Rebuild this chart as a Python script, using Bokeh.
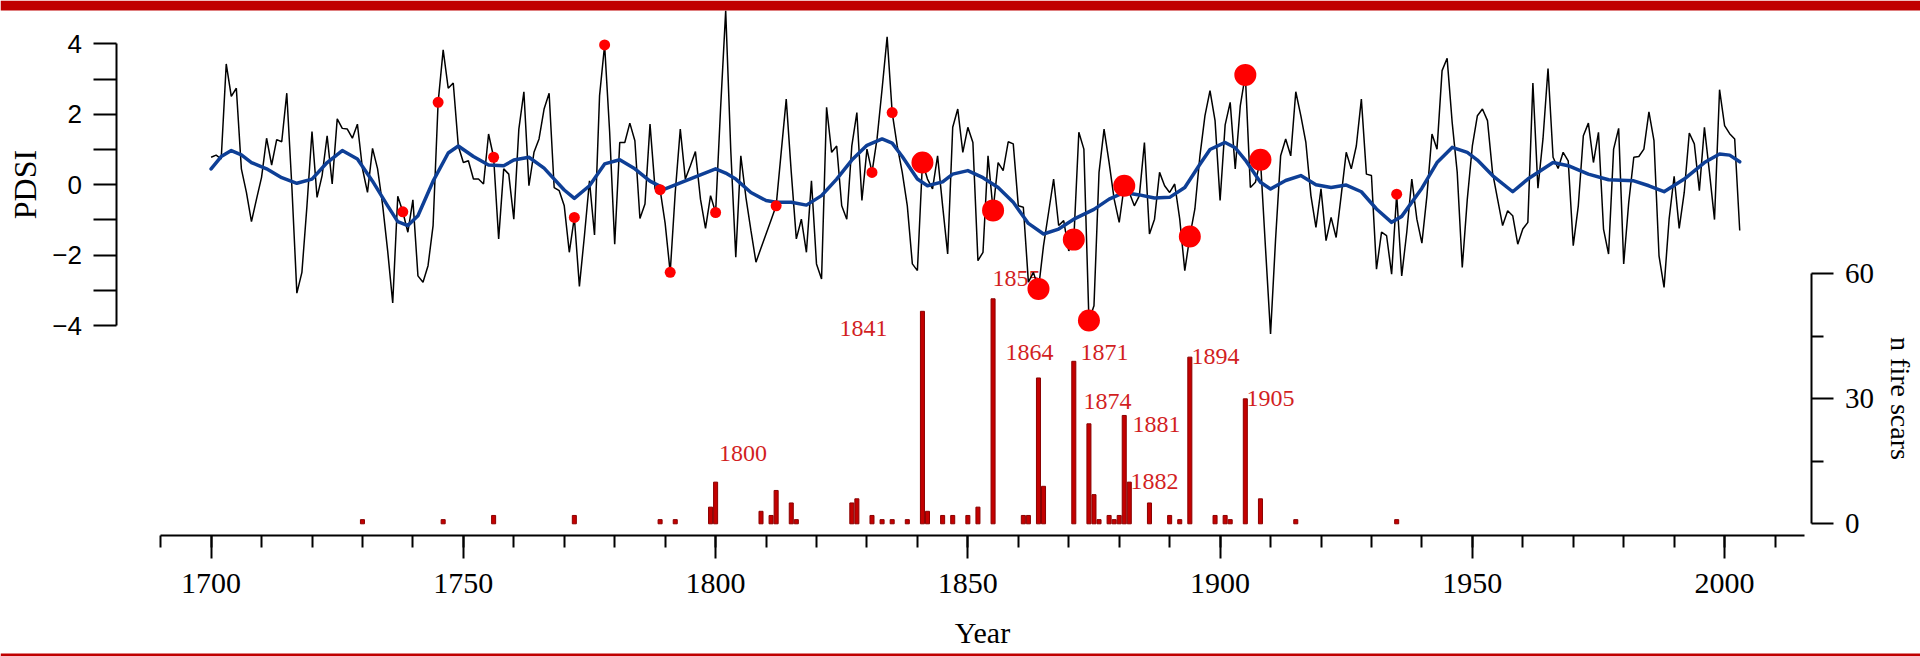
from bokeh.plotting import figure
from bokeh.models import Range1d, LinearAxis, FixedTicker, BoxAnnotation, ColumnDataSource
from bokeh.core.properties import value
from bokeh.embed import file_html
from bokeh.resources import INLINE

# ---------------- data ----------------
years = list(range(1700, 2004))
pdsi = [
    0.78, 0.84, 0.73, 3.43, 2.51, 2.74, 0.45, -0.22, -1.05, -0.41,
    0.21, 1.32, 0.56, 1.28, 1.22, 2.60, -0.03, -3.08, -2.49, -0.60,
    1.51, -0.36, 0.26, 1.39, 0.02, 1.87, 1.60, 1.58, 1.32, 1.72,
    0.46, -0.22, 1.03, 0.45, -0.58, -1.88, -3.36, -0.33, -0.77, -1.35,
    -0.43, -2.59, -2.77, -2.30, -1.16, 2.34, 3.83, 2.74, 2.89, 1.10,
    0.63, 0.68, 0.16, 0.16, 0.02, 1.44, 0.78, -1.54, 0.45, 0.30,
    -0.98, 1.58, 2.64, -0.03, 0.92, 1.30, 2.15, 2.60, -0.08, -0.17,
    -0.60, -1.92, -0.93, -2.89, -1.45, 0.11, -1.43, 2.53, 3.97, 1.49,
    -1.69, 1.20, 1.20, 1.75, 1.25, -0.96, -0.55, 1.72, -0.12, -0.14,
    -1.10, -2.49, -0.22, 1.58, 0.16, 0.54, 0.94, -0.41, -1.24, -0.31,
    -0.79, 2.20, 4.94, 1.00, -2.06, 0.82, -0.35, -1.30, -2.20, -1.80,
    -1.40, -1.00, -0.60, 0.92, 2.43, 0.35, -1.54, -0.98, -1.92, 0.11,
    -2.25, -2.68, 2.20, 0.92, 1.10, -0.60, -0.98, 1.10, 2.05, -0.45,
    1.01, 0.35, 1.30, 2.72, 4.20, 2.05, 1.10, 0.35, -0.60, -2.25,
    -2.44, 0.63, 0.16, -0.12, 0.82, -0.60, -1.97, 1.63, 2.15, 0.92,
    1.63, 1.20, -2.16, -1.92, 0.82, -0.73, 0.63, 0.40, 1.22, 1.16,
    -0.60, -0.64, -2.77, -2.49, -2.96, -1.73, -0.79, 0.16, -1.16, -1.02,
    -1.88, -1.56, 1.49, 1.01, -3.86, -3.44, 0.35, 1.58, 0.63, -0.41,
    -1.07, -0.03, -0.22, -0.60, -0.31, 1.20, -1.40, -0.98, 0.35, -0.03,
    -0.22, 0.02, -0.98, -2.44, -1.47, -0.69, 0.82, 1.96, 2.67, 1.82,
    -0.45, 1.70, 2.34, 0.45, 2.24, 3.12, -0.08, 0.07, 0.71, -1.80,
    -4.24, -1.54, 0.82, 1.30, 0.82, 2.64, 1.96, 1.20, -0.31, -1.21,
    -0.12, -1.59, -0.93, -1.50, -0.31, 0.92, 0.45, 1.10, 2.43, 0.30,
    0.26, -2.40, -1.35, -1.45, -2.54, -0.27, -2.59, -1.35, 0.16, -0.98,
    -1.66, -0.31, 1.44, 1.01, 3.24, 3.59, 1.77, 0.35, -2.35, -0.41,
    1.10, 1.96, 2.15, 1.82, 0.35, -0.41, -1.16, -0.74, -0.88, -1.69,
    -1.26, -1.07, 2.89, -0.10, 1.30, 3.30, 0.78, 0.46, 0.92, 0.68,
    -1.73, -0.60, 1.39, 1.75, 0.63, 1.49, -1.26, -1.97, 1.01, 1.60,
    -2.25, -0.50, 0.78, 0.80, 1.01, 2.07, 1.25, -2.02, -2.92, -0.98,
    0.24, -1.24, -0.22, 1.47, 1.16, -0.17, 1.63, 0.35, -0.99, 2.70,
    1.68, 1.45, 1.30, -1.30,
]

smooth_years = [
    1700, 1702, 1704, 1706, 1708, 1711, 1714, 1717, 1720, 1723, 1726, 1729,
    1732, 1735, 1737, 1739, 1741, 1744, 1747, 1749, 1752, 1755, 1758, 1760,
    1763, 1766, 1770, 1772, 1775, 1778, 1781, 1784, 1787, 1790, 1793, 1797,
    1800, 1802, 1804, 1807, 1810, 1812, 1815, 1818, 1821, 1824, 1827, 1830,
    1833, 1835, 1837, 1840, 1842, 1845, 1847, 1850, 1853, 1856, 1859, 1862,
    1865, 1868, 1871, 1875, 1878, 1881, 1884, 1887, 1890, 1893, 1896, 1898,
    1901, 1903, 1905, 1908, 1910, 1913, 1916, 1919, 1922, 1925, 1928, 1931,
    1934, 1936, 1940, 1943, 1946, 1949, 1951, 1954, 1958, 1961, 1966, 1969,
    1973, 1977, 1982, 1985, 1988, 1992, 1996, 1999, 2001, 2003,
]
smooth_pdsi = [
    0.45, 0.80, 0.97, 0.85, 0.63, 0.45, 0.20, 0.04, 0.16, 0.63, 0.97, 0.73,
    0.10, -0.60, -1.05, -1.16, -0.88, 0.10, 0.90, 1.10, 0.80, 0.56, 0.54, 0.70,
    0.78, 0.47, -0.15, -0.39, -0.03, 0.59, 0.71, 0.45, 0.10, -0.12, 0.05, 0.28,
    0.45, 0.33, 0.16, -0.22, -0.45, -0.50, -0.50, -0.58, -0.31, 0.16, 0.70, 1.12,
    1.30, 1.18, 0.80, 0.16, -0.03, 0.08, 0.30, 0.40, 0.20, -0.08, -0.50, -1.10,
    -1.40, -1.26, -0.98, -0.70, -0.41, -0.22, -0.29, -0.38, -0.36, -0.08, 0.58, 1.00,
    1.20, 1.05, 0.70, 0.07, -0.12, 0.12, 0.26, 0.00, -0.08, -0.01, -0.20, -0.69,
    -1.07, -0.90, -0.10, 0.63, 1.06, 0.92, 0.70, 0.26, -0.20, 0.16, 0.63, 0.54,
    0.30, 0.14, 0.11, -0.03, -0.20, 0.16, 0.63, 0.87, 0.84, 0.65,
]

fire_years = [
    1730, 1746, 1756, 1772, 1789, 1792, 1799, 1800, 1809, 1811, 1812, 1815,
    1816, 1827, 1828, 1831, 1833, 1835, 1838, 1841, 1842, 1845, 1847, 1850,
    1852, 1855, 1861, 1862, 1864, 1865, 1871, 1874, 1875, 1876, 1878, 1879,
    1880, 1881, 1882, 1886, 1890, 1892, 1894, 1899, 1901, 1902, 1905, 1908,
    1915, 1935,
]
fire_counts = [
    1, 1, 2, 2, 1, 1, 4, 10, 3, 2, 8, 5,
    1, 5, 6, 2, 1, 1, 1, 51, 3, 2, 2, 2,
    4, 54, 2, 2, 35, 9, 39, 24, 7, 1, 2, 1,
    2, 26, 10, 5, 2, 1, 40, 2, 2, 1, 30, 6,
    1, 1,
]

small_dot_years = [1738, 1745, 1756, 1772, 1778, 1789, 1791, 1800, 1812, 1831, 1835, 1935]
big_dot_years = [1841, 1855, 1864, 1871, 1874, 1881, 1894, 1905, 1908]
label_years = [1800, 1841, 1855, 1864, 1871, 1874, 1881, 1882, 1894, 1905]

# ---------------- layout (pixels) ----------------
W, H = 1920, 656
X0_PX, PX_PER_YEAR = 210.6, 5.045      # pixel of year 1700, px per year
Y0_PX, PX_PER_PDSI = 184.2, 35.2       # pixel of PDSI 0, px per unit
F0_PX, PX_PER_SCAR = 523.3, 250.0 / 60 # pixel of 0 scars, px per scar

def year_at(px):
    return 1700 + (px - X0_PX) / PX_PER_YEAR

def pdsi_at(py):
    return (Y0_PX - py) / PX_PER_PDSI

x_range = Range1d(year_at(0), year_at(W))
y_range = Range1d(pdsi_at(H), pdsi_at(0))
fire_range = Range1d((F0_PX - H) / PX_PER_SCAR, F0_PX / PX_PER_SCAR)

p = figure(width=W, height=H, x_range=x_range, y_range=y_range,
           output_backend="svg", toolbar_location=None,
           x_axis_location=None, y_axis_location=None, min_border=0)
p.min_border_left = p.min_border_right = p.min_border_top = p.min_border_bottom = 0
p.outline_line_color = None
p.grid.visible = False
p.background_fill_color = "white"
p.border_fill_color = "white"
p.extra_y_ranges = {"fire": fire_range}

RED_BAND = "#c00000"
p.add_layout(BoxAnnotation(bottom=pdsi_at(10), fill_color=RED_BAND, fill_alpha=1,
                           line_color=None, level="underlay"))
p.add_layout(BoxAnnotation(top=pdsi_at(653), fill_color=RED_BAND, fill_alpha=1,
                           line_color=None, level="underlay"))

SERIF = "Liberation Serif"
SANS = "Liberation Sans"

def style_axis(ax, tick_out, minor_out, label_size, font):
    ax.axis_line_width = 2
    ax.axis_line_color = "black"
    ax.major_tick_line_width = 2
    ax.minor_tick_line_width = 2
    ax.major_tick_in = 0
    ax.minor_tick_in = 0
    ax.major_tick_out = tick_out
    ax.minor_tick_out = minor_out
    ax.major_label_text_font = font
    ax.major_label_text_font_size = label_size
    ax.major_label_text_color = "black"
    ax.axis_label_text_font = SERIF
    ax.axis_label_text_font_style = "normal"
    ax.axis_label_text_color = "black"

# bottom Year axis
xaxis = LinearAxis(fixed_location=pdsi_at(535), bounds=(1690, 2015.9),
                   ticker=FixedTicker(ticks=list(range(1700, 2001, 50)),
                                      minor_ticks=list(range(1690, 2016, 10))),
                   axis_label="Year")
style_axis(xaxis, 23, 12, "30px", SERIF)
xaxis.major_label_standoff = 15
xaxis.axis_label_standoff = 20
xaxis.axis_label_text_font_size = "30px"
p.add_layout(xaxis, "below")

# left PDSI axis
laxis = LinearAxis(fixed_location=year_at(115.5), bounds=(-4, 4),
                   ticker=FixedTicker(ticks=[-4, -2, 0, 2, 4], minor_ticks=[-3, -1, 1, 3]),
                   axis_label="PDSI")
style_axis(laxis, 23, 23, "26px", SANS)
laxis.major_label_standoff = 11
laxis.axis_label_standoff = 7
laxis.axis_label_text_font_size = "32px"
p.add_layout(laxis, "left")

# right fire-scar axis
raxis = LinearAxis(y_range_name="fire", fixed_location=year_at(1810.6), bounds=(0, 60),
                   ticker=FixedTicker(ticks=[0, 30, 60], minor_ticks=[15, 45]),
                   axis_label="n fire scars")
style_axis(raxis, 22, 12, "29px", SERIF)
raxis.major_label_standoff = 12
raxis.axis_label_standoff = 7
raxis.axis_label_text_font_size = "28px"
p.add_layout(raxis, "right")

# fire-scar bars
p.vbar(x=fire_years, top=fire_counts, bottom=0, width=0.8, y_range_name="fire",
       fill_color="#c40000", line_color="#8a0000", line_width=1)

# labels of fire years (pixel offsets from the top of each bar)
count_of = dict(zip(fire_years, fire_counts))
label_dx = [3.5, -82.9, -0.6, -33.0, 6.7, -5.4, 8.2, 1.2, 1.7, 1.2]
label_dy = [-29.0, 16.9, -20.6, -25.8, -9.0, -22.3, 8.7, -0.6, -0.6, -0.6]
lab_src = ColumnDataSource(dict(x=label_years, y=[count_of[y] for y in label_years],
                                t=[str(y) for y in label_years], dx=label_dx, dy=label_dy))
p.text(x="x", y="y", text="t", x_offset="dx", y_offset="dy", source=lab_src,
       y_range_name="fire", text_font=value(SERIF), text_font_size="24px",
       text_color="#d21f1f", text_align="left", text_baseline="alphabetic")

# PDSI series and smooth
p.line(years, pdsi, line_color="black", line_width=1.5)
p.line(smooth_years, smooth_pdsi, line_color="#0e3f96", line_width=3.5,
       line_join="round", line_cap="round")

# fire-year dots
pdsi_of = dict(zip(years, pdsi))
p.scatter(small_dot_years, [pdsi_of[y] for y in small_dot_years], size=11,
          fill_color="#ff0000", line_color=None)
p.scatter(big_dot_years, [pdsi_of[y] for y in big_dot_years], size=22,
          fill_color="#ff0000", line_color=None)

open("out.html", "w").write(file_html(p, INLINE))
